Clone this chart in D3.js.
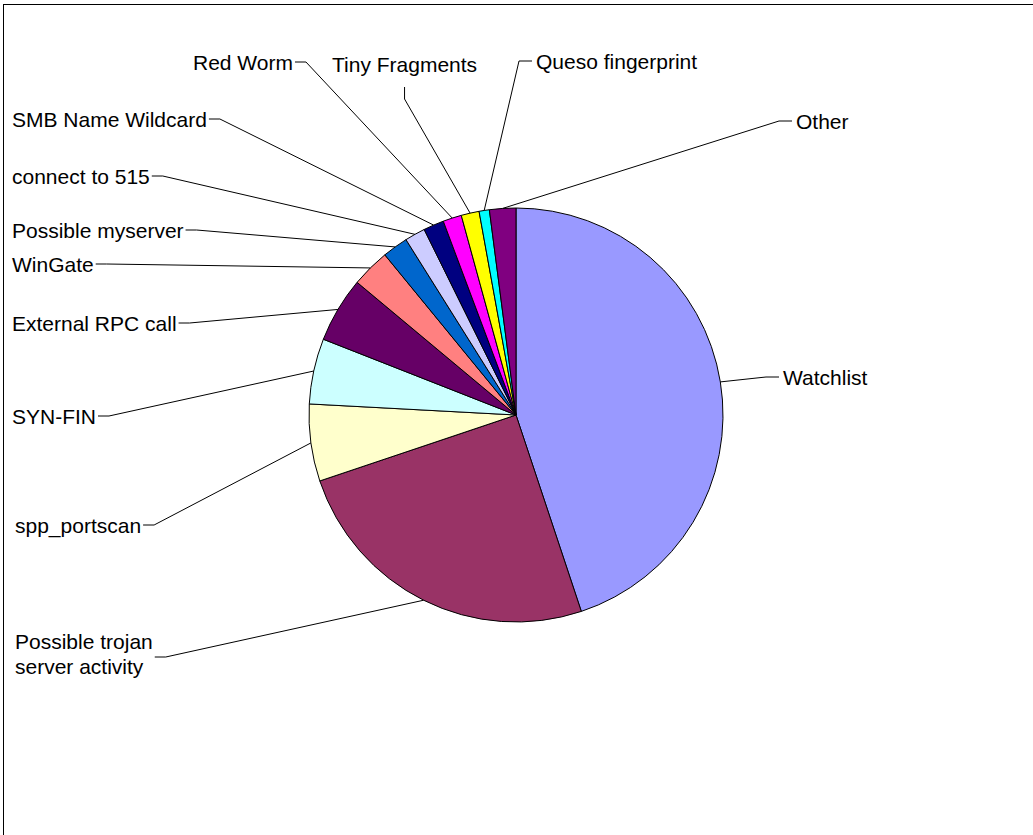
<!DOCTYPE html>
<html>
<head>
<meta charset="utf-8">
<script src="https://cdn.jsdelivr.net/npm/d3@7"></script>
<style>
  body { margin: 0; background: #fff; }
  text { font-family: "Liberation Sans", Arial, sans-serif; font-size: 21px; fill: #000; }
</style>
</head>
<body>
<div id="chart"></div>
<script>
var categories = ["Watchlist", "Possible trojan server activity", "spp_portscan", "SYN-FIN",
  "External RPC call", "WinGate", "Possible myserver", "connect to 515", "SMB Name Wildcard",
  "Red Worm", "Tiny Fragments", "Queso fingerprint", "Other"];
var values = [44.8, 24.9, 6.0, 5.1, 5.1, 3.0, 2.0, 1.6, 1.6, 1.45, 1.4, 0.8, 2.05];
var colors = ["#9999FF", "#993366", "#FFFFCC", "#CCFFFF", "#660066", "#FF8080", "#0066CC",
  "#CCCCFF", "#000080", "#FF00FF", "#FFFF00", "#00FFFF", "#800080"];

// where each label sits (x = text start, y = text middle) and which side the leader stub is on
var labelLayout = [
  {x: 783, y: 377, side: "left"},
  {x: 15, y: 657, side: "right", lines: ["Possible trojan", "server activity"]},
  {x: 15, y: 525, side: "right"},
  {x: 12, y: 416, side: "right"},
  {x: 12, y: 323, side: "right"},
  {x: 12, y: 264, side: "right"},
  {x: 12, y: 230, side: "right"},
  {x: 12, y: 176, side: "right"},
  {x: 12, y: 119, side: "right"},
  {x: 193, y: 62, side: "right"},
  {x: 332, y: 64, side: "bottom"},
  {x: 536, y: 61, side: "left"},
  {x: 796, y: 121, side: "left"}
];

var width = 1033, height = 835;
var cx = 516, cy = 415, radius = 207;

var svg = d3.select('#chart').append('svg')
  .attr('width', width)
  .attr('height', height);

// chart frame
svg.append('rect')
  .attr('x', 3.5).attr('y', 4.5)
  .attr('width', 1040).attr('height', 840)
  .attr('fill', 'none')
  .attr('stroke', '#000')
  .attr('stroke-width', 1);

var pie = d3.pie().sort(null).value((d)=> d);
var arcs = pie(values);
var arc = d3.arc().innerRadius(0).outerRadius(radius);

var g = svg.append('g').attr('transform', 'translate(' + cx + ',' + cy + ')');

g.selectAll('path').data(arcs).enter()
  .append('path')
  .attr('d', arc)
  .attr('fill', (d, i)=> colors[i])
  .attr('stroke', '#000')
  .attr('stroke-width', 1)
  .attr('stroke-linejoin', 'round');

// labels + leader lines
var labels = svg.append('g');
arcs.forEach((a, i)=> {
  var lay = labelLayout[i];
  var t = labels.append('text').attr('x', lay.x);
  if (lay.lines) {
    lay.lines.forEach((ln, k)=> {
      t.append('tspan').attr('x', lay.x).attr('y', lay.y - 8 + k * 25).text(ln);
    });
  } else {
    t.attr('y', lay.y + 7.5).text(categories[i]);
  }
  var bb = t.node().getBBox();

  var mid = (a.startAngle + a.endAngle) / 2;
  var px = cx + radius * Math.sin(mid);
  var py = cy - radius * Math.cos(mid);

  var s0, s1;
  if (lay.side === "left") {
    s0 = [lay.x - 4, lay.y]; s1 = [lay.x - 17, lay.y];
  } else if (lay.side === "right") {
    var ex = bb.x + bb.width;
    s0 = [ex + 2, lay.y]; s1 = [ex + 13, lay.y];
  } else {
    var mx = bb.x + bb.width / 2;
    s0 = [mx, lay.y + 23]; s1 = [mx, lay.y + 35];
  }
  labels.append('polyline')
    .attr('points', [s0, s1, [px, py]].map((p)=> p.join(',')).join(' '))
    .attr('fill', 'none')
    .attr('stroke', '#000')
    .attr('stroke-width', 1);
});
</script>
</body>
</html>
